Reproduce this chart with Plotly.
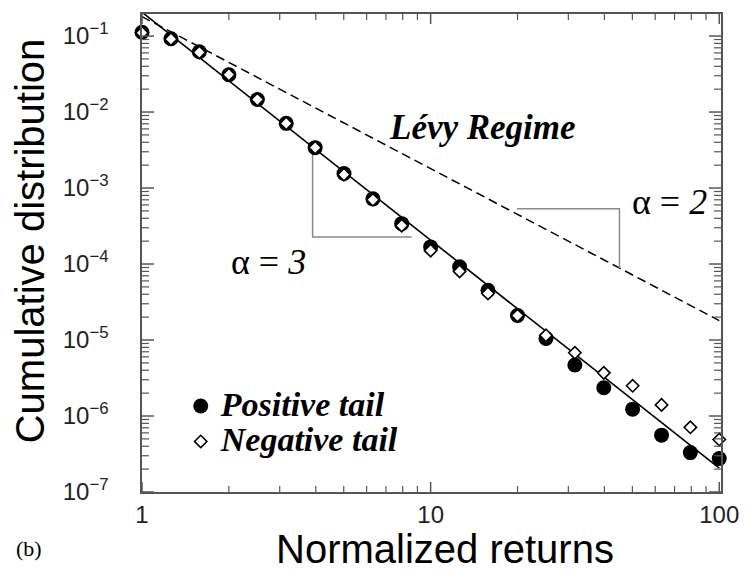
import numpy as np
import plotly.graph_objects as go

# ---------------- data ----------------
returns_x = [1, 1.26, 1.58, 2.0, 2.51, 3.16, 3.98, 5.01, 6.31, 7.94, 10,
             12.6, 15.8, 20, 25.1, 31.6, 39.8, 50.1, 63.1, 79.4, 100]
positive_tail = [0.112, 0.092, 0.062, 0.031, 0.0146, 0.0071, 0.0034, 0.00155,
                 0.00072, 0.00034, 0.000168, 9.2e-5, 4.5e-5, 2.1e-5, 1.05e-5,
                 4.7e-6, 2.35e-6, 1.23e-6, 5.6e-7, 3.3e-7, 2.75e-7]
negative_tail = [0.11, 0.091, 0.061, 0.031, 0.0146, 0.0071, 0.0034, 0.00150,
                 0.00070, 0.00032, 0.000150, 8.0e-5, 4.1e-5, 2.1e-5, 1.15e-5,
                 6.8e-6, 3.7e-6, 2.5e-6, 1.4e-6, 7.1e-7, 4.9e-7]

fit3_x = [1, 100]
fit3_y = [0.206, 2.06e-7]          # alpha = 3 power law
levy_x = [1, 100]
levy_y = [0.18, 1.8e-5]            # alpha = 2 (Levy) power law

tri3_x = [3.9, 3.9, 8.6]
tri3_y = [3.47e-3, 2.265e-4, 2.265e-4]
tri2_x = [19.9, 45.1, 45.1]
tri2_y = [5.33e-4, 5.33e-4, 8.87e-5]

x_tickvals = [1, 10, 100]
x_ticktext = ["1", "10", "100"]
y_exponents = [-7, -6, -5, -4, -3, -2, -1]
y_tickvals = [10.0 ** e for e in y_exponents]
y_ticktext = ["10<sup>−%d</sup>\u00a0\u00a0\u00a0\u00a0" % (-e) for e in y_exponents]

minor_digits = [2, 3, 4, 5, 6, 7, 8, 9]
x_decades = [1, 10]
y_decades = [1e-7, 1e-6, 1e-5, 1e-4, 1e-3, 1e-2, 1e-1]

SERIF = "Liberation Serif"
SANS = "Liberation Sans"
AXC = "#555555"
X_RANGE = [0, 2.006]
Y_RANGE = [-7, -0.71]

x_minor = [d * k for d in x_decades for k in minor_digits
           if np.log10(d * k) < X_RANGE[1]]
y_minor = [d * k for d in y_decades for k in minor_digits
           if np.log10(d * k) < Y_RANGE[1]]

fig = go.Figure()

fig.add_trace(go.Scatter(x=fit3_x, y=fit3_y, mode="lines",
                         line=dict(color="black", width=1.6), showlegend=False,
                         hoverinfo="skip"))
fig.add_trace(go.Scatter(x=levy_x, y=levy_y, mode="lines",
                         line=dict(color="black", width=1.5, dash="9px,5px"),
                         showlegend=False, hoverinfo="skip"))
fig.add_trace(go.Scatter(x=tri3_x, y=tri3_y, mode="lines",
                         line=dict(color="#8a8a8a", width=1.5), showlegend=False,
                         hoverinfo="skip"))
fig.add_trace(go.Scatter(x=tri2_x, y=tri2_y, mode="lines",
                         line=dict(color="#8a8a8a", width=1.5), showlegend=False,
                         hoverinfo="skip"))

fig.add_trace(go.Scatter(x=returns_x, y=positive_tail, mode="markers",
                         name="<span style='font-size:34px'>Positive tail</span>",
                         cliponaxis=False,
                         marker=dict(symbol="circle", size=15, color="black",
                                     line=dict(width=0))))
fig.add_trace(go.Scatter(x=returns_x, y=negative_tail, mode="markers",
                         name="<span style='font-size:34px'>Negative tail</span>",
                         cliponaxis=False,
                         marker=dict(symbol="diamond", size=9.5, color="white",
                                     line=dict(color="black", width=1.6))))

# Inward-pointing tick marks on all four sides, drawn as pixel-sized shapes
# anchored at the axis values (positions go through the axis scales).
tick_shapes = []
for vals, length, width in [(x_tickvals, 10, 1.5), (x_minor, 6, 1.2)]:
    for v in vals:
        for anchor, sign in [(0, 1), (1, -1)]:
            tick_shapes.append(dict(
                type="line", xref="x", yref="paper", x0=v, x1=v,
                ysizemode="pixel", yanchor=anchor, y0=0, y1=sign * length,
                line=dict(color=AXC, width=width)))
for vals, length, width in [(y_tickvals, 12, 1.5), (y_minor, 7, 1.2)]:
    for v in vals:
        for anchor, sign in [(0, 1), (1, -1)]:
            tick_shapes.append(dict(
                type="line", yref="y", xref="paper", y0=v, y1=v,
                xsizemode="pixel", xanchor=anchor, x0=0, x1=sign * length,
                line=dict(color=AXC, width=width)))

fig.update_layout(
    xaxis=dict(type="log", range=X_RANGE, tickmode="array",
               tickvals=x_tickvals, ticktext=x_ticktext, ticks="",
               showline=True, linecolor=AXC, linewidth=2, mirror=True,
               showgrid=False, zeroline=False,
               tickfont=dict(family=SANS, size=24, color="#222222")),
    yaxis=dict(type="log", range=Y_RANGE, tickmode="array",
               tickvals=y_tickvals, ticktext=y_ticktext, ticks="",
               showline=True, linecolor=AXC, linewidth=2, mirror=True,
               showgrid=False, zeroline=False,
               tickfont=dict(family=SANS, size=24, color="#222222")),
    shapes=tick_shapes,
)

fig.update_layout(
    width=751, height=571,
    margin=dict(l=142, r=26, t=13, b=79),
    paper_bgcolor="white", plot_bgcolor="white",
    legend=dict(x=(181 - 142) / 583, y=(492 - 383) / 479,
                xanchor="left", yanchor="top", bgcolor="rgba(0,0,0,0)",
                font=dict(family=SERIF, size=25, color="black",
                          weight="bold", style="italic"),
                itemsizing="trace", tracegroupgap=0),
    annotations=[
        dict(text="Normalized returns", xref="paper", yref="paper",
             x=(446.7 - 142) / 583, y=(492 - 549) / 479, showarrow=False,
             xanchor="center", yanchor="middle",
             font=dict(family=SANS, size=40, color="black")),
        dict(text="Cumulative distribution", xref="paper", yref="paper",
             x=(29 - 142) / 583, y=(492 - 240) / 479, showarrow=False,
             textangle=-90, xanchor="center", yanchor="middle",
             font=dict(family=SANS, size=40, color="black")),
        dict(text="Lévy Regime", xref="paper", yref="paper",
             x=(485 - 142) / 583, y=(492 - 127) / 479, showarrow=False,
             xanchor="center", yanchor="middle",
             font=dict(family=SERIF, size=35, color="black",
                       weight="bold", style="italic")),
        dict(text="α = <i>3</i>", xref="paper", yref="paper",
             x=(269 - 142) / 583, y=(492 - 261.7) / 479, showarrow=False,
             xanchor="center", yanchor="middle",
             font=dict(family=SERIF, size=36, color="black")),
        dict(text="α = <i>2</i>", xref="paper", yref="paper",
             x=(673 - 142) / 583, y=(492 - 201.7) / 479, showarrow=False,
             xanchor="center", yanchor="middle",
             font=dict(family=SERIF, size=36, color="black")),
        dict(text="(b)", xref="paper", yref="paper",
             x=(28 - 142) / 583, y=(492 - 549) / 479, showarrow=False,
             xanchor="center", yanchor="middle",
             font=dict(family=SERIF, size=22, color="black")),
    ],
)

fig.write_html("out.html", config={"displayModeBar": False},
               post_script="document.body.style.margin='0px';")
